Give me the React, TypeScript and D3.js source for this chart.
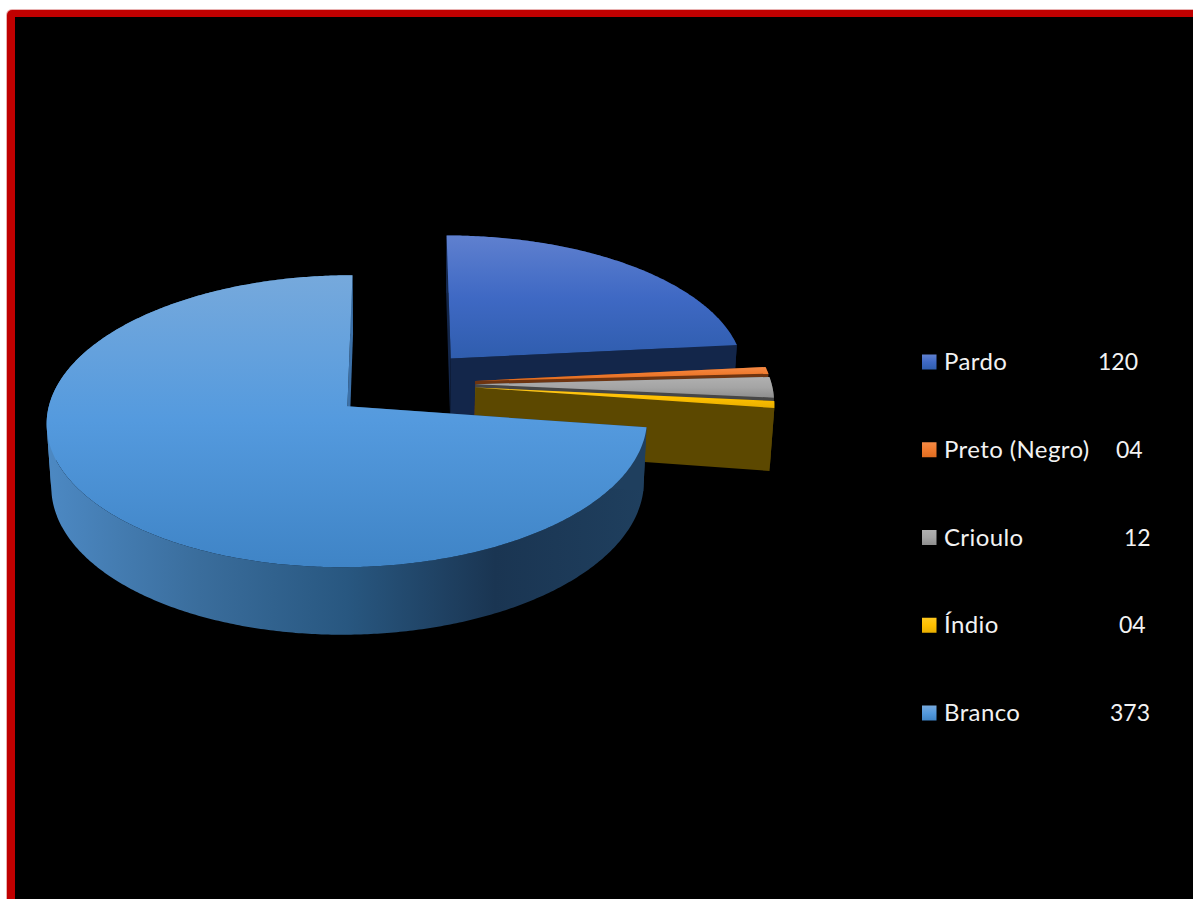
import React from "react";
import * as d3 from "d3";

const categories = ["Pardo", "Preto (Negro)", "Crioulo", "Índio", "Branco"];
const counts = [120, 4, 12, 4, 373];

// Slice colours: top-face gradient stops, leading-wall gradient stops,
// trailing-wall shades, rim gradient stops.
const topStops = [
  ["#5f80cf", "#3f69c4", "#2f5dae"],
  ["#f58a45", "#ef7a2e", "#e06c20"],
  ["#b0b0b0", "#a5a5a5", "#8e8e8e"],
  ["#ffc91f", "#ffc000", "#e8ae00"],
  ["#76a9dc", "#549ade", "#3f84c6"],
];
const leadWallStops = [
  ["#13264a", "#13264a"],
  ["#6e3410", "#6e3410"],
  ["#464646", "#464646"],
  ["#735b1c", "#5c4800"],
  ["#1f3f5e", "#1f3f5e"],
];
const trailWallColors = ["#13264a", "#6e3410", "#464646", "#5c4800", "#3b70a8"];
const rimStops = [
  ["#1c3870", "#13264a"],
  ["#7a3c12", "#6e3410"],
  ["#555555", "#464646"],
  ["#6e5716", "#5c4800"],
  ["#4c88c2", "#3a6d9c", "#285780", "#1a3552", "#1f3f5e"],
];

const legendValueLeft = [1098, 1116, 1124, 1119, 1110];

// Perspective camera for the tilted pie.
const CX = 403;
const CY = 383.5;
const RX = 296;
const RY = 140;
const PERSPECTIVE = 0.1;
const DEPTH_Y = 63;
const DEPTH_SHRINK = 0.013;
const EXPLODE = 0.24;

// Small per-slice screen adjustments of the exploded pieces, and horizontal radius factor.
const sliceShift: [number, number][] = [
  [1, -0.5],
  [1.5, 0],
  [1.5, 0],
  [1.5, 0],
  [-1, 0.5],
];
const sliceWidth = [1, 1, 1, 1, 0.993];

type Pt = [number, number];

// Maps a point on the pie plane (x right, y toward the viewer, z downward) to the screen.
function project(x: number, y: number, z: number): Pt {
  const w = 1 - PERSPECTIVE * y + DEPTH_SHRINK * z;
  return [CX + (RX * x) / w, CY + (RY * y + DEPTH_Y * z) / w];
}

const pie = d3
  .pie<number>()
  .sort(null)
  .startAngle(0)
  .endAngle(2 * Math.PI);
const slices = pie(counts);

const pathOf = d3.line<Pt>().curve(d3.curveLinear);

function sliceGeometry(start: number, end: number, index: number) {
  const mid = (start + end) / 2;
  const ox = EXPLODE * Math.sin(mid);
  const oy = -EXPLODE * Math.cos(mid);
  const [sx, sy] = sliceShift[index];
  const widen = sliceWidth[index];
  const place = (x: number, y: number, z: number): Pt => {
    const [px, py] = project(x, y, z);
    return [px + sx, py + sy];
  };
  const steps = Math.max(4, Math.ceil((end - start) / 0.01));
  const angles = d3.range(steps + 1).map((i) => start + ((end - start) * i) / steps);
  const rim = (z: number) =>
    angles.map((a) => place(ox + widen * Math.sin(a), oy - Math.cos(a), z));
  const apexTop = place(ox, oy, 0);
  const apexBottom = place(ox, oy, 1);
  const rimTop = rim(0);
  const rimBottom = rim(1);

  // The rim band folds over at the silhouette, so it is split where its winding flips.
  const rimParts: string[] = [];
  let from = 0;
  let sign = 0;
  for (let i = 0; i < steps; i++) {
    const s = Math.sign(d3.polygonArea([rimTop[i], rimTop[i + 1], rimBottom[i + 1], rimBottom[i]]));
    if (sign !== 0 && s !== 0 && s !== sign) {
      rimParts.push(pathOf([...rimTop.slice(from, i + 1), ...rimBottom.slice(from, i + 1).reverse()])! + "Z");
      from = i;
    }
    if (s !== 0) sign = s;
  }
  rimParts.push(pathOf([...rimTop.slice(from), ...rimBottom.slice(from).reverse()])! + "Z");

  const first = rimTop[0];
  const last = rimTop[rimTop.length - 1];
  return {
    top: pathOf([apexTop, ...rimTop])! + "Z",
    rimParts,
    wallStart: pathOf([apexTop, first, rimBottom[0], apexBottom])! + "Z",
    wallEnd: pathOf([apexTop, last, rimBottom[rimBottom.length - 1], apexBottom])! + "Z",
    bounds: {
      y0: d3.min(rimTop, (p) => p[1])!,
      y1: d3.max(rimTop, (p) => p[1])!,
      x0: d3.min(rimBottom, (p) => p[0])!,
      x1: d3.max(rimBottom, (p) => p[0])!,
    },
    apexTop,
  };
}

const geometries = slices.map((s, i) => sliceGeometry(s.startAngle, s.endAngle, i));

const legendY = d3.scalePoint<string>().domain(categories).range([362, 713]);
const formatCount = d3.format("02d");
const FONT = "Lato, 'Open Sans', sans-serif";

export default function App() {
  return (
    <svg
      width={1193}
      height={899}
      viewBox="0 0 1193 899"
      style={{ position: "fixed", left: 0, top: 0, display: "block" }}
    >
      <defs>
        {geometries.map((g, i) => {
          const y0 = Math.min(g.bounds.y0, g.apexTop[1]);
          const y1 = Math.max(g.bounds.y1, g.apexTop[1]);
          return (
            <React.Fragment key={i}>
              <linearGradient id={`top${i}`} gradientUnits="userSpaceOnUse" x1={0} x2={0} y1={y0} y2={y1}>
                {topStops[i].map((c, j) => (
                  <stop key={j} offset={j / (topStops[i].length - 1)} stopColor={c} />
                ))}
              </linearGradient>
              <linearGradient id={`rim${i}`} gradientUnits="userSpaceOnUse" x1={g.bounds.x0} x2={g.bounds.x1} y1={0} y2={0}>
                {rimStops[i].map((c, j) => (
                  <stop key={j} offset={j / (rimStops[i].length - 1)} stopColor={c} />
                ))}
              </linearGradient>
              <linearGradient id={`wall${i}`} gradientUnits="userSpaceOnUse" x1={g.apexTop[0]} x2={g.bounds.x1} y1={0} y2={0}>
                {leadWallStops[i].map((c, j) => (
                  <stop key={j} offset={j} stopColor={c} />
                ))}
              </linearGradient>
              <linearGradient id={`key${i}`} x1={0} x2={0} y1={0} y2={1}>
                {topStops[i].map((c, j) => (
                  <stop key={j} offset={j / (topStops[i].length - 1)} stopColor={c} />
                ))}
              </linearGradient>
            </React.Fragment>
          );
        })}
      </defs>

      <rect width={1193} height={899} fill="#ffffff" />
      <rect x={6} y={9} width={1400} height={1200} rx={6} fill="#e8b0b0" />
      <rect x={7} y={10} width={1400} height={1200} rx={5} fill="#c00000" />
      <rect x={15} y={17} width={1400} height={1200} fill="#000000" />

      {geometries.map((g, i) => (
        <g key={categories[i]}>
          {g.rimParts.map((d, j) => (
            <path key={j} d={d} fill={`url(#rim${i})`} />
          ))}
          <path d={g.wallStart} fill={`url(#wall${i})`} />
          <path d={g.wallEnd} fill={trailWallColors[i]} />
          <path d={g.top} fill={`url(#top${i})`} />
        </g>
      ))}

      {categories.map((name, i) => {
        const y = legendY(name)!;
        return (
          <g key={name} fontFamily={FONT} fill="#f2f2f2">
            <rect x={922} y={y - 7.5} width={14.5} height={15} fill={`url(#key${i})`} />
            <text x={944} y={y + 8} fontSize={24} letterSpacing={0.4}>{name}</text>
            <text x={legendValueLeft[i]} y={y + 8} fontSize={23}>{formatCount(counts[i])}</text>
          </g>
        );
      })}
    </svg>
  );
}
